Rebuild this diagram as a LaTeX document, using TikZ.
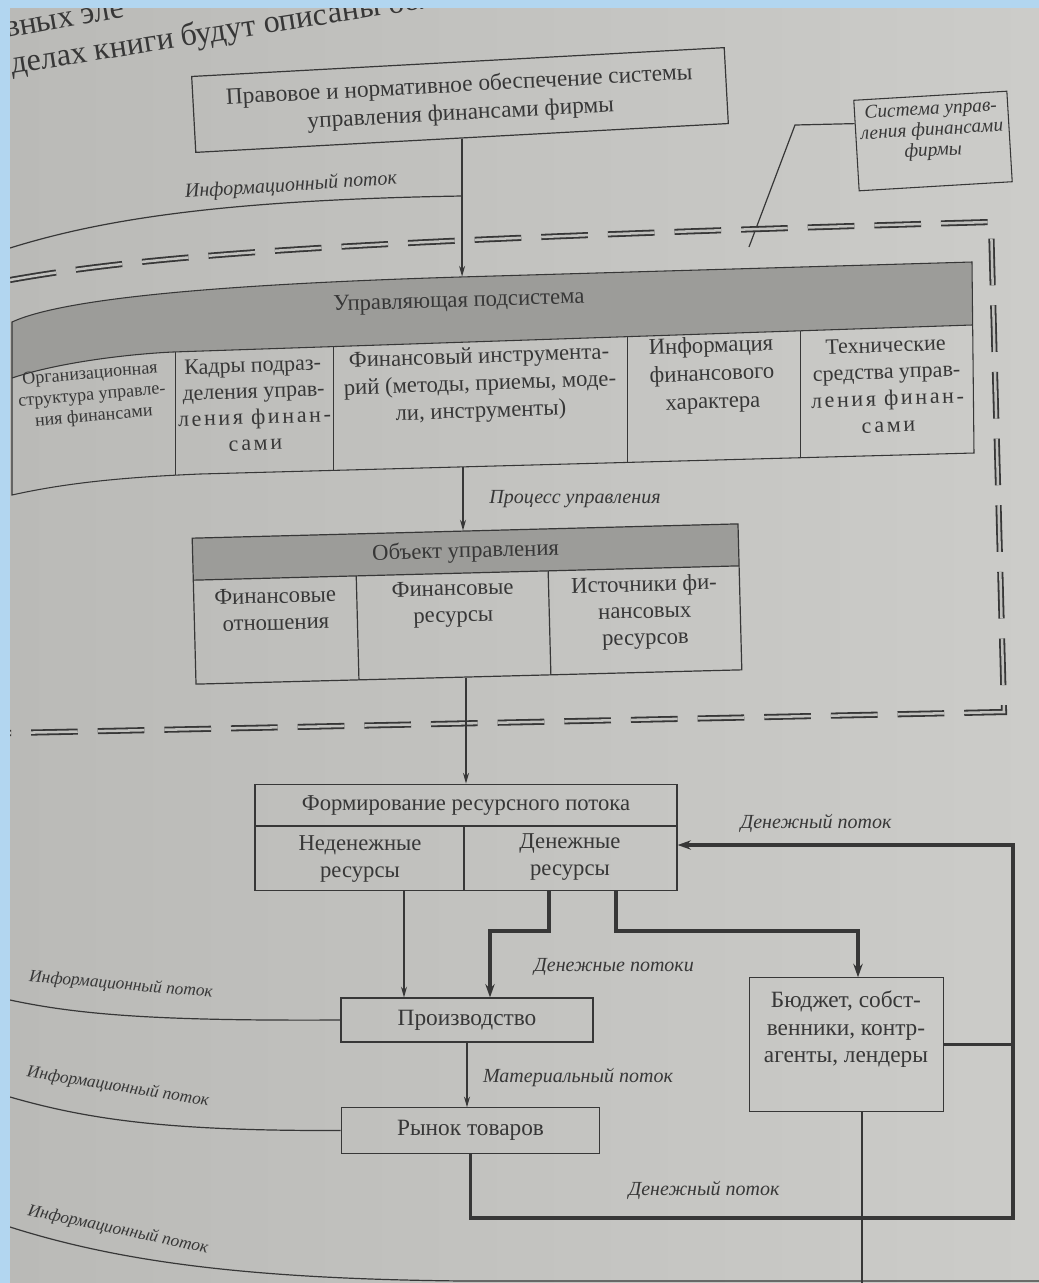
\documentclass[tikz,border=0pt]{standalone}
\usepackage{fontspec}
\setmainfont{Liberation Serif}
\usetikzlibrary{arrows.meta,positioning,calc}

\definecolor{frameblue}{RGB}{178,214,240}
\definecolor{pagegray}{RGB}{186,186,183}
\definecolor{pagelight}{RGB}{204,204,201}
\definecolor{ink}{RGB}{55,55,55}
\definecolor{bandgray}{RGB}{156,156,153}

\newcommand\lspaced{\addfontfeature{LetterSpace=12}}

\tikzset{
  box/.style={draw=ink, line width=0.9pt, inner sep=0pt, text=ink, align=center,
    font=\fontsize{17.5}{21}\selectfont},
  celltext/.style={text=ink, inner sep=0pt, align=center, font=\fontsize{17}{20}\selectfont},
  flowlabel/.style={text=ink, inner sep=0pt, font=\itshape\fontsize{15}{18}\selectfont},
  infolabel/.style={text=ink, inner sep=0pt, font=\itshape\fontsize{13}{15}\selectfont},
  thinline/.style={draw=ink, line width=0.9pt},
  thinarrow/.style={thinline, -{Stealth[length=8pt,width=4.5pt]}},
  moneyflow/.style={draw=ink, line width=2.4pt},
  moneyarrow/.style={moneyflow, -{Stealth[length=10pt,width=7pt]}},
  sysborder/.style={draw=ink, line width=1.35pt, double=pagegray!60!pagelight,
    double distance=1.9pt, dash pattern=on 35pt off 15pt},
}

\begin{document}
\begin{tikzpicture}[x=0.75pt, y=-0.75pt]
% photo frame and page
\fill[frameblue] (0,0) rectangle (1039,1283);
\shade[left color=pagegray, right color=pagelight] (10,8) rectangle (1039,1283);
\useasboundingbox (0,0) rectangle (1039,1283);

\begin{scope}
\clip (10,8) rectangle (1039,1283);
\node[text=ink, inner sep=0pt, anchor=base west, rotate=9,
  font=\fontsize{24}{28}\selectfont] (pageline) at (12,74) {делах книги будут описаны более подробно};
\node[text=ink, inner sep=0pt, anchor=base west, rotate=10,
  font=\fontsize{24}{28}\selectfont] (pagelinetop) at (6,38) {вных эле};

% legal box and label box
\node[box, rotate=3.1, minimum width=400pt, minimum height=57pt] (law) at (460,100)
  {Правовое и нормативное обеспечение системы\\управления финансами фирмы};
\node[draw=ink, line width=0.8pt, rotate=3.4, minimum width=115pt, minimum height=68pt] (sysbox) at (933,141) {};
\node[text=ink, inner sep=0pt, align=center, rotate=3.4,
  font=\itshape\fontsize{14.5}{15.5}\selectfont] (systxt) at (932,131) {Система управ-\\ления финансами\\фирмы};
\coordinate (sysbend) at (795,125);
\coordinate (sysend) at (749,247);
\draw[thinline] ($(sysbox.north west)!0.26!(sysbox.south west)$) -- (sysbend) -- (sysend);

% information flow to the control subsystem
\coordinate (infotop) at (10,248);
\coordinate (infoy) at (0,196);
\coordinate (subtop) at (462,276.5);
\coordinate (subbot) at (463,467);
\draw[thinarrow] (law.south) -- (law.south |- subtop);
\draw[thinline] (infotop) .. controls (100,220) and (220,200) .. (law.south |- infoy);
\node[flowlabel, rotate=3.7] (infotoplbl) at (291,186) {Информационный поток};

% boundary of the system
\draw[sysborder] (10,280) .. controls (150,255) and (350,240) .. (991,222) -- (1004,712) -- (10,733);

% control subsystem
\fill[bandgray] (12,322) .. controls (60,300) and (200,285) .. (460,277) -- (972,262)
  -- (972,325) -- (173,352) .. controls (130,354) and (60,362) .. (12,378) -- cycle;
\draw[ink, line width=0.8pt] (12,322) .. controls (60,300) and (200,285) .. (460,277) -- (972,262)
  -- (974,453) -- (200,474) .. controls (130,477) and (70,482) .. (12,495) -- cycle;
\draw[ink, line width=0.8pt] (12,378) .. controls (60,362) and (130,354) .. (173,352) -- (972,325);
\foreach \x/\yt/\yb in {175/352/475, 333/346.6/470, 627/336.7/462.4, 800/330.8/457.7}
  \draw[ink, line width=0.7pt] (\x,\yt) -- (\x,\yb);
\node[celltext, rotate=1.8] (subhead) at (459,302) {Управляющая подсистема};
\node[celltext, rotate=5, font=\fontsize{13.5}{16}\selectfont] (orgcell) at (92,396)
  {Организационная\\структура управле-\\ния финансами};
\node[celltext, rotate=2, font=\fontsize{16.5}{19.5}\selectfont] (staffcell) at (254,404)
  {Кадры подраз-\\деления управ-\\{\lspaced ления финан-}\\{\lspaced сами}};
\node[celltext, rotate=2, font=\fontsize{17}{20.5}\selectfont] (toolcell) at (480,385)
  {Финансовый инструмента-\\рий (методы, приемы, моде-\\ли, инструменты)};
\node[celltext, rotate=2, font=\fontsize{17}{21}\selectfont] (infocell) at (712,375)
  {Информация\\финансового\\характера};
\node[celltext, rotate=2, font=\fontsize{16.5}{20}\selectfont] (techcell) at (887,385)
  {Технические\\средства управ-\\{\lspaced ления финан-}\\{\lspaced сами}};

% object of control
\begin{scope}[shift={(467,604)}, rotate=1.5, transform shape]
\fill[bandgray] (-273,-73) rectangle (273,-31);
\node[box, minimum width=409.5pt, minimum height=109.5pt] (obj) at (0,0) {};
\draw[ink, line width=0.9pt] (-273,-31) -- (273,-31);
\draw[ink, line width=0.9pt] (-110,-31) -- (-110,73);
\draw[ink, line width=0.9pt] (82,-31) -- (82,73);
\node[celltext] (objhead) at (0,-52) {Объект управления};
\node[celltext, anchor=north, font=\fontsize{17}{20}\selectfont] (objrel) at (-191.5,-21) {Финансовые\\отношения};
\node[celltext, anchor=north, font=\fontsize{17}{20}\selectfont] (objres) at (-14,-24) {Финансовые\\ресурсы};
\node[celltext, anchor=north, font=\fontsize{17}{20}\selectfont] (objsrc) at (177.5,-24) {Источники фи-\\нансовых\\ресурсов};
\end{scope}
\draw[thinarrow] (subbot) -- (subbot |- obj.north);
\node[flowlabel] (procl) at (575,499) {Процесс управления};

% resource flow
\coordinate (formsplit) at (0,826);
\coordinate (formdiv) at (464,0);
\node[box, minimum width=316.5pt, minimum height=80pt] (form) at (466,837.5) {};
\draw[thinline] (form.west |- formsplit) -- (form.east |- formsplit);
\draw[thinline] (formdiv |- formsplit) -- (formdiv |- form.south);
\node[celltext] (formhead) at (466,806) {Формирование ресурсного потока};
\node[celltext] (formnon) at (360,859) {Неденежные\\ресурсы};
\node[celltext] (formmon) at (570,857) {Денежные\\ресурсы};
\draw[thinarrow] (obj.south -| form.north) -- (form.north);

% production, market, budget
\node[box, minimum width=189pt, minimum height=33pt] (prod) at (467,1020) {Производство};
\node[box, minimum width=194pt, minimum height=34pt] (market) at (470.5,1130.5) {Рынок товаров};
\node[box, minimum width=145pt, minimum height=100pt] (budget) at (846.5,1044.5) {};
\node[celltext, anchor=north, font=\fontsize{17.5}{20.5}\selectfont] (budgettxt) at (846,991)
  {Бюджет, собст-\\венники, контр-\\агенты, лендеры};

\coordinate (nonx) at (404,0);
\coordinate (monx) at (549,0);
\coordinate (budmonx) at (616,0);
\coordinate (splity) at (0,931);
\coordinate (prodmonx) at (490,0);
\coordinate (budx) at (858,0);
\coordinate (rety) at (0,1218);
\coordinate (retx) at (1013,0);
\coordinate (formin) at (0,845);
\coordinate (budout) at (862,0);
\coordinate (pagebot) at (0,1283);

\draw[thinarrow] (form.south -| nonx) -- (prod.north -| nonx);
\draw[moneyarrow] (form.south -| monx) |- (prodmonx |- splity) -- (prod.north -| prodmonx);
\draw[moneyarrow] (form.south -| budmonx) |- (budx |- splity) -- (budget.north -| budx);
\draw[thinarrow] (prod.south) -- (prod.south |- market.north);
\draw[moneyarrow] (market.south) |- (retx |- rety) -- (retx |- formin) -- (form.east |- formin);
\draw[moneyflow] (budget.east) -- (budget.east -| retx);
\draw[thinline] (budget.south -| budout) -- (budout |- pagebot);

\node[flowlabel] (moneyin) at (816,823) {Денежный поток};
\node[flowlabel] (moneysplit) at (614,967) {Денежные потоки};
\node[flowlabel] (matl) at (578,1077) {Материальный поток};
\node[flowlabel] (moneyret) at (704,1190) {Денежный поток};

% information flows below
\draw[thinline] (10,1000) .. controls (80,1015) and (160,1021) .. (prod.west);
\draw[thinline] (10,1097) .. controls (90,1120) and (170,1131) .. (market.west);
\draw[thinline] (10,1227) .. controls (120,1262) and (250,1279) .. (464,1281) -- (1039,1281);
\node[infolabel, rotate=-5] (infoprod) at (121,985) {Информационный поток};
\node[infolabel, rotate=-9] (infomarket) at (118,1087) {Информационный поток};
\node[infolabel, rotate=-12] (infobottom) at (118,1230) {Информационный поток};
\end{scope}
\end{tikzpicture}
\end{document}
